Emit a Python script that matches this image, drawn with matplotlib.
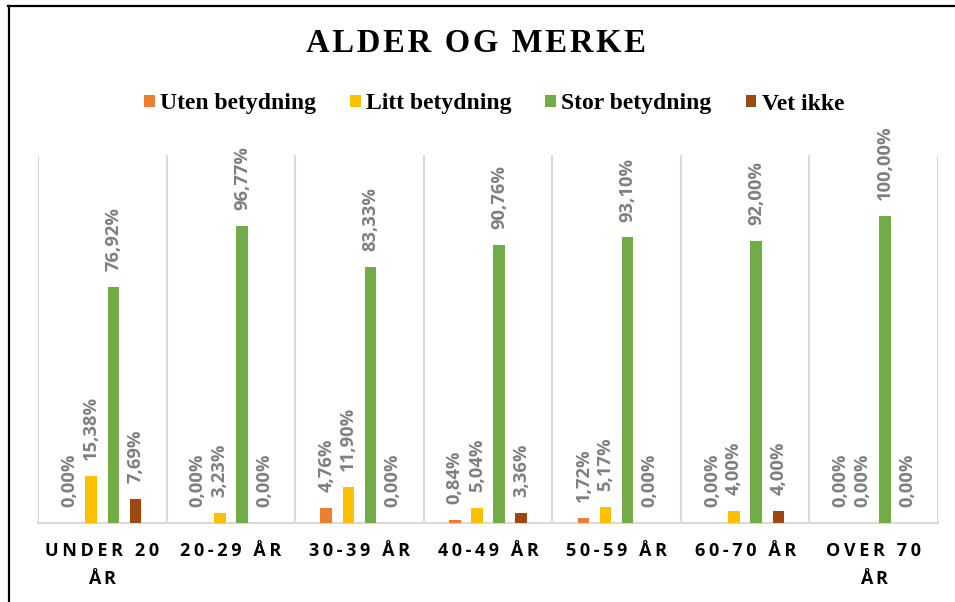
import matplotlib
matplotlib.use("Agg")
import matplotlib.pyplot as plt
from matplotlib.lines import Line2D
import numpy as np

categories = ["UNDER 20\nÅR", "20-29 ÅR", "30-39 ÅR", "40-49 ÅR", "50-59 ÅR", "60-70 ÅR", "OVER 70\nÅR"]
series_names = ["Uten betydning", "Litt betydning", "Stor betydning", "Vet ikke"]
uten = [0.00, 0.00, 4.76, 0.84, 1.72, 0.00, 0.00]
litt = [15.38, 3.23, 11.90, 5.04, 5.17, 4.00, 0.00]
stor = [76.92, 96.77, 83.33, 90.76, 93.10, 92.00, 100.00]
vet = [7.69, 0.00, 0.00, 3.36, 0.00, 4.00, 0.00]
colors = ["#ED7D31", "#FFC000", "#70AD47", "#9E480E"]

def spaced(s, sp="\u2009"):
    return "\n".join(sp.join(line) for line in s.split("\n"))

fig = plt.figure(figsize=(9.55, 6.02), dpi=100)
ax = fig.add_axes([38/955, 79/602, 900/955, 368/602])

x = np.arange(len(categories))
offsets = [-0.258, -0.086, 0.086, 0.258]
width = 0.09
label_font = ["Open Sans", "DejaVu Sans"]
for vals, off, col, name in zip([uten, litt, stor, vet], offsets, colors, series_names):
    v = np.array(vals) / 100
    ax.bar(x + off, v, width=width, color=col, label=name, zorder=3)
    for xi, vi, raw in zip(x + off, v, vals):
        txt = f"{raw:.2f}".replace(".", ",") + "%"
        ax.annotate(txt, (xi, vi), xytext=(0, 11.5), textcoords="offset points",
                    rotation=90, ha="center", va="bottom", fontsize=13.2,
                    fontweight="bold", color="#7F7F7F", family=label_font)

ax.set_xlim(-0.5, len(categories) - 0.5)
ax.set_ylim(0, 1.2)
ax.set_yticks([])
for b in np.arange(-0.5, len(categories), 1.0):
    ax.axvline(b, color="#D9D9D9", lw=1.5, zorder=1)
for s in ["top", "left", "right"]:
    ax.spines[s].set_visible(False)
ax.spines["bottom"].set_color("#D9D9D9")
ax.spines["bottom"].set_linewidth(1.5)
ax.set_xticks(x)
ax.set_xticklabels([spaced(c) for c in categories], fontsize=13, fontweight="bold",
                   family=["Open Sans", "DejaVu Sans"], color="black", linespacing=1.7)
ax.tick_params(axis="x", length=0, pad=14)

fig.text(0.5 * (307 + 645) / 955, 1 - 43/602, spaced("ALDER OG MERKE", "\u200a"),
         ha="center", va="center", fontsize=23.5, fontweight="bold",
         family=["Liberation Serif", "DejaVu Serif"], color="black")

leg = fig.legend(loc="center", bbox_to_anchor=(494/955, 1 - 104/602), ncol=4,
                 frameon=False, handlelength=0.45, handleheight=0.45, handletextpad=0.22,
                 columnspacing=1.45,
                 prop={"family": "Liberation Serif", "weight": "bold", "size": 17})

fig.add_artist(Line2D([8/955, 1], [1 - 6/602, 1 - 6/602], color="black", lw=1.6, transform=fig.transFigure))
fig.add_artist(Line2D([8.5/955, 8.5/955], [0, 1 - 6/602], color="black", lw=1.6, transform=fig.transFigure))

fig.savefig("out.png", dpi=100)
